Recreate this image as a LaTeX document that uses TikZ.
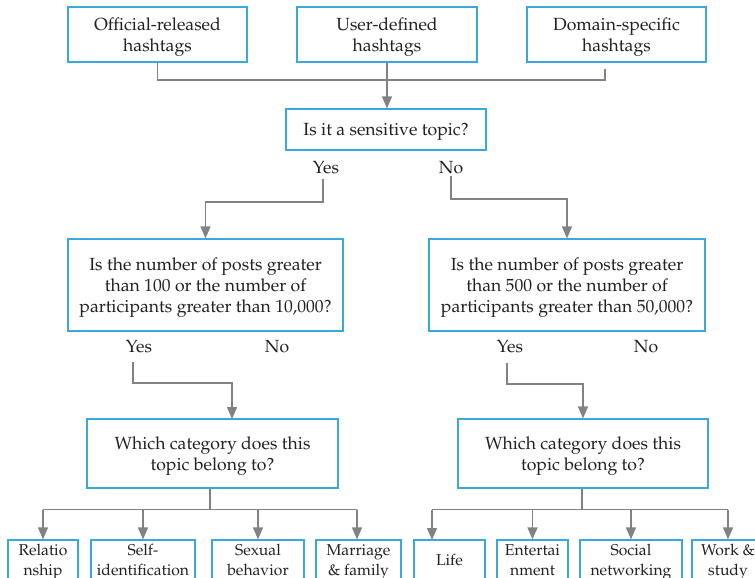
\documentclass[tikz,border=0pt]{standalone}
\usepackage[T1]{fontenc}
\renewcommand{\rmdefault}{ppl}
\usetikzlibrary{arrows.meta}
\definecolor{boxblue}{HTML}{3AA7DE}
\definecolor{linegray}{HTML}{808285}
\definecolor{txt}{HTML}{231F20}
\tikzset{
  box/.style={draw=boxblue, line width=1.2pt, inner sep=0pt, align=center, text=txt,
    text depth=0pt, font=\fontsize{17.6}{21}\selectfont},
  leaf/.style={box, font=\fontsize{15.7}{19.5}\selectfont},
  lbl/.style={inner sep=0pt, text=txt, font=\fontsize{17.6}{21}\selectfont},
  conn/.style={draw=linegray, line width=1.2pt},
  arr/.style={conn, -{Triangle[width=10pt,length=12pt]}},
}
\begin{document}
\begin{tikzpicture}[x=1pt,y=-1pt]
\useasboundingbox (0,0) rectangle (755,578);
\clip (0,0) rectangle (755,578);
% top boxes
\node[box, minimum width=179pt, minimum height=55pt] (b1) at (157.5,34.5) {Official-released\\hashtags};
\node[box, minimum width=180pt, minimum height=55pt] (b2) at (387,34.5) {User-defined\\hashtags};
\node[box, minimum width=179pt, minimum height=55pt] (b3) at (616.5,34.5) {Domain-specific\\hashtags};
\node[box, minimum width=200pt, minimum height=41pt] (sens) at (386,129.5) {Is it a sensitive topic?};
% question boxes
\node[box, minimum width=275pt, minimum height=92pt] (q1) at (205.5,285) {Is the number of posts greater\\than 100 or the number of\\participants greater than 10,000?};
\node[box, minimum width=276pt, minimum height=92pt] (q2) at (567,285) {Is the number of posts greater\\than 500 or the number of\\participants greater than 50,000?};
% category boxes
\node[box, minimum width=251pt, minimum height=69pt] (c1) at (212.5,453.5) {Which category does this\\topic belong to?};
\node[box, minimum width=250pt, minimum height=69pt] (c2) at (583,453.5) {Which category does this\\topic belong to?};
% leaf boxes
\node[leaf, minimum width=70pt, minimum height=40pt] (l1) at (43,560) {Relatio\\nship};
\node[leaf, minimum width=104pt, minimum height=40pt] (l2) at (143,560) {Self-\\identification};
\node[leaf, minimum width=92pt, minimum height=40pt] (l3) at (258,560) {Sexual\\behavior};
\node[leaf, minimum width=85pt, minimum height=40pt] (l4) at (358.5,560) {Marriage\\\& family};
\node[leaf, minimum width=71pt, minimum height=40pt] (r1) at (449.5,560) {Life};
\node[leaf, minimum width=71pt, minimum height=40pt] (r2) at (532.5,560) {Entertai\\nment};
\node[leaf, minimum width=102pt, minimum height=40pt] (r3) at (631,560) {Social\\networking};
\node[leaf, minimum width=72pt, minimum height=40pt] (r4) at (728,560) {Work \&\\study};
% labels
\node[lbl] (ys0) at (326,168) {Yes};
\node[lbl] (no0) at (451,168) {No};
\node[lbl] (ys1) at (139,347) {Yes};
\node[lbl] (no1) at (277,347) {No};
\node[lbl] (ys2) at (510,347) {Yes};
\node[lbl] (no2) at (646,347) {No};
% coordinates
\coordinate (b3o) at (605,69);
\coordinate (jr) at (605,80);
\coordinate (ys0o) at (323,179);
\coordinate (no0o) at (451,176);
\coordinate (ys1o) at (133,362);
\coordinate (ys2o) at (507,363);
\coordinate (c1in) at (232,419);
\coordinate (r1in) at (432,540);
% top connectors
\draw[conn] (b1.south) |- (jr) -- (b3o);
\draw[arr] (b2.south) -- (b2.south |- sens.north);
% yes/no from sensitive
\draw[arr] (ys0o) -- ++(0,23) -| (q1.north);
\draw[arr] (no0o) -- ++(0,23) -| (q2.north);
% yes from q boxes
\draw[arr] (ys1o) -- ++(0,21) -| (c1in);
\draw[arr] (ys2o) -- ++(0,21) -| (c2.north);
% left tree
\draw[conn] (c1.south -| 210,0) -- ++(0,21) coordinate (t1);
\draw[conn] (l1.north |- t1) -- (357,0 |- t1);
\draw[arr] (l1.north |- t1) -- (l1.north);
\draw[arr] (l2.north |- t1) -- (l2.north);
\draw[arr] (l3.north |- t1) -- (l3.north);
\draw[arr] (357,0 |- t1) -- (357,0 |- l4.north);
% right tree
\draw[conn] (c2.south -| 582,0) -- ++(0,21) coordinate (t2);
\draw[conn] (r1in |- t2) -- (r4.north |- t2);
\draw[arr] (r1in |- t2) -- (r1in);
\draw[arr] (r2.north |- t2) -- (r2.north);
\draw[arr] (r3.north |- t2) -- (r3.north);
\draw[arr] (r4.north |- t2) -- (r4.north);
\end{tikzpicture}
\end{document}
